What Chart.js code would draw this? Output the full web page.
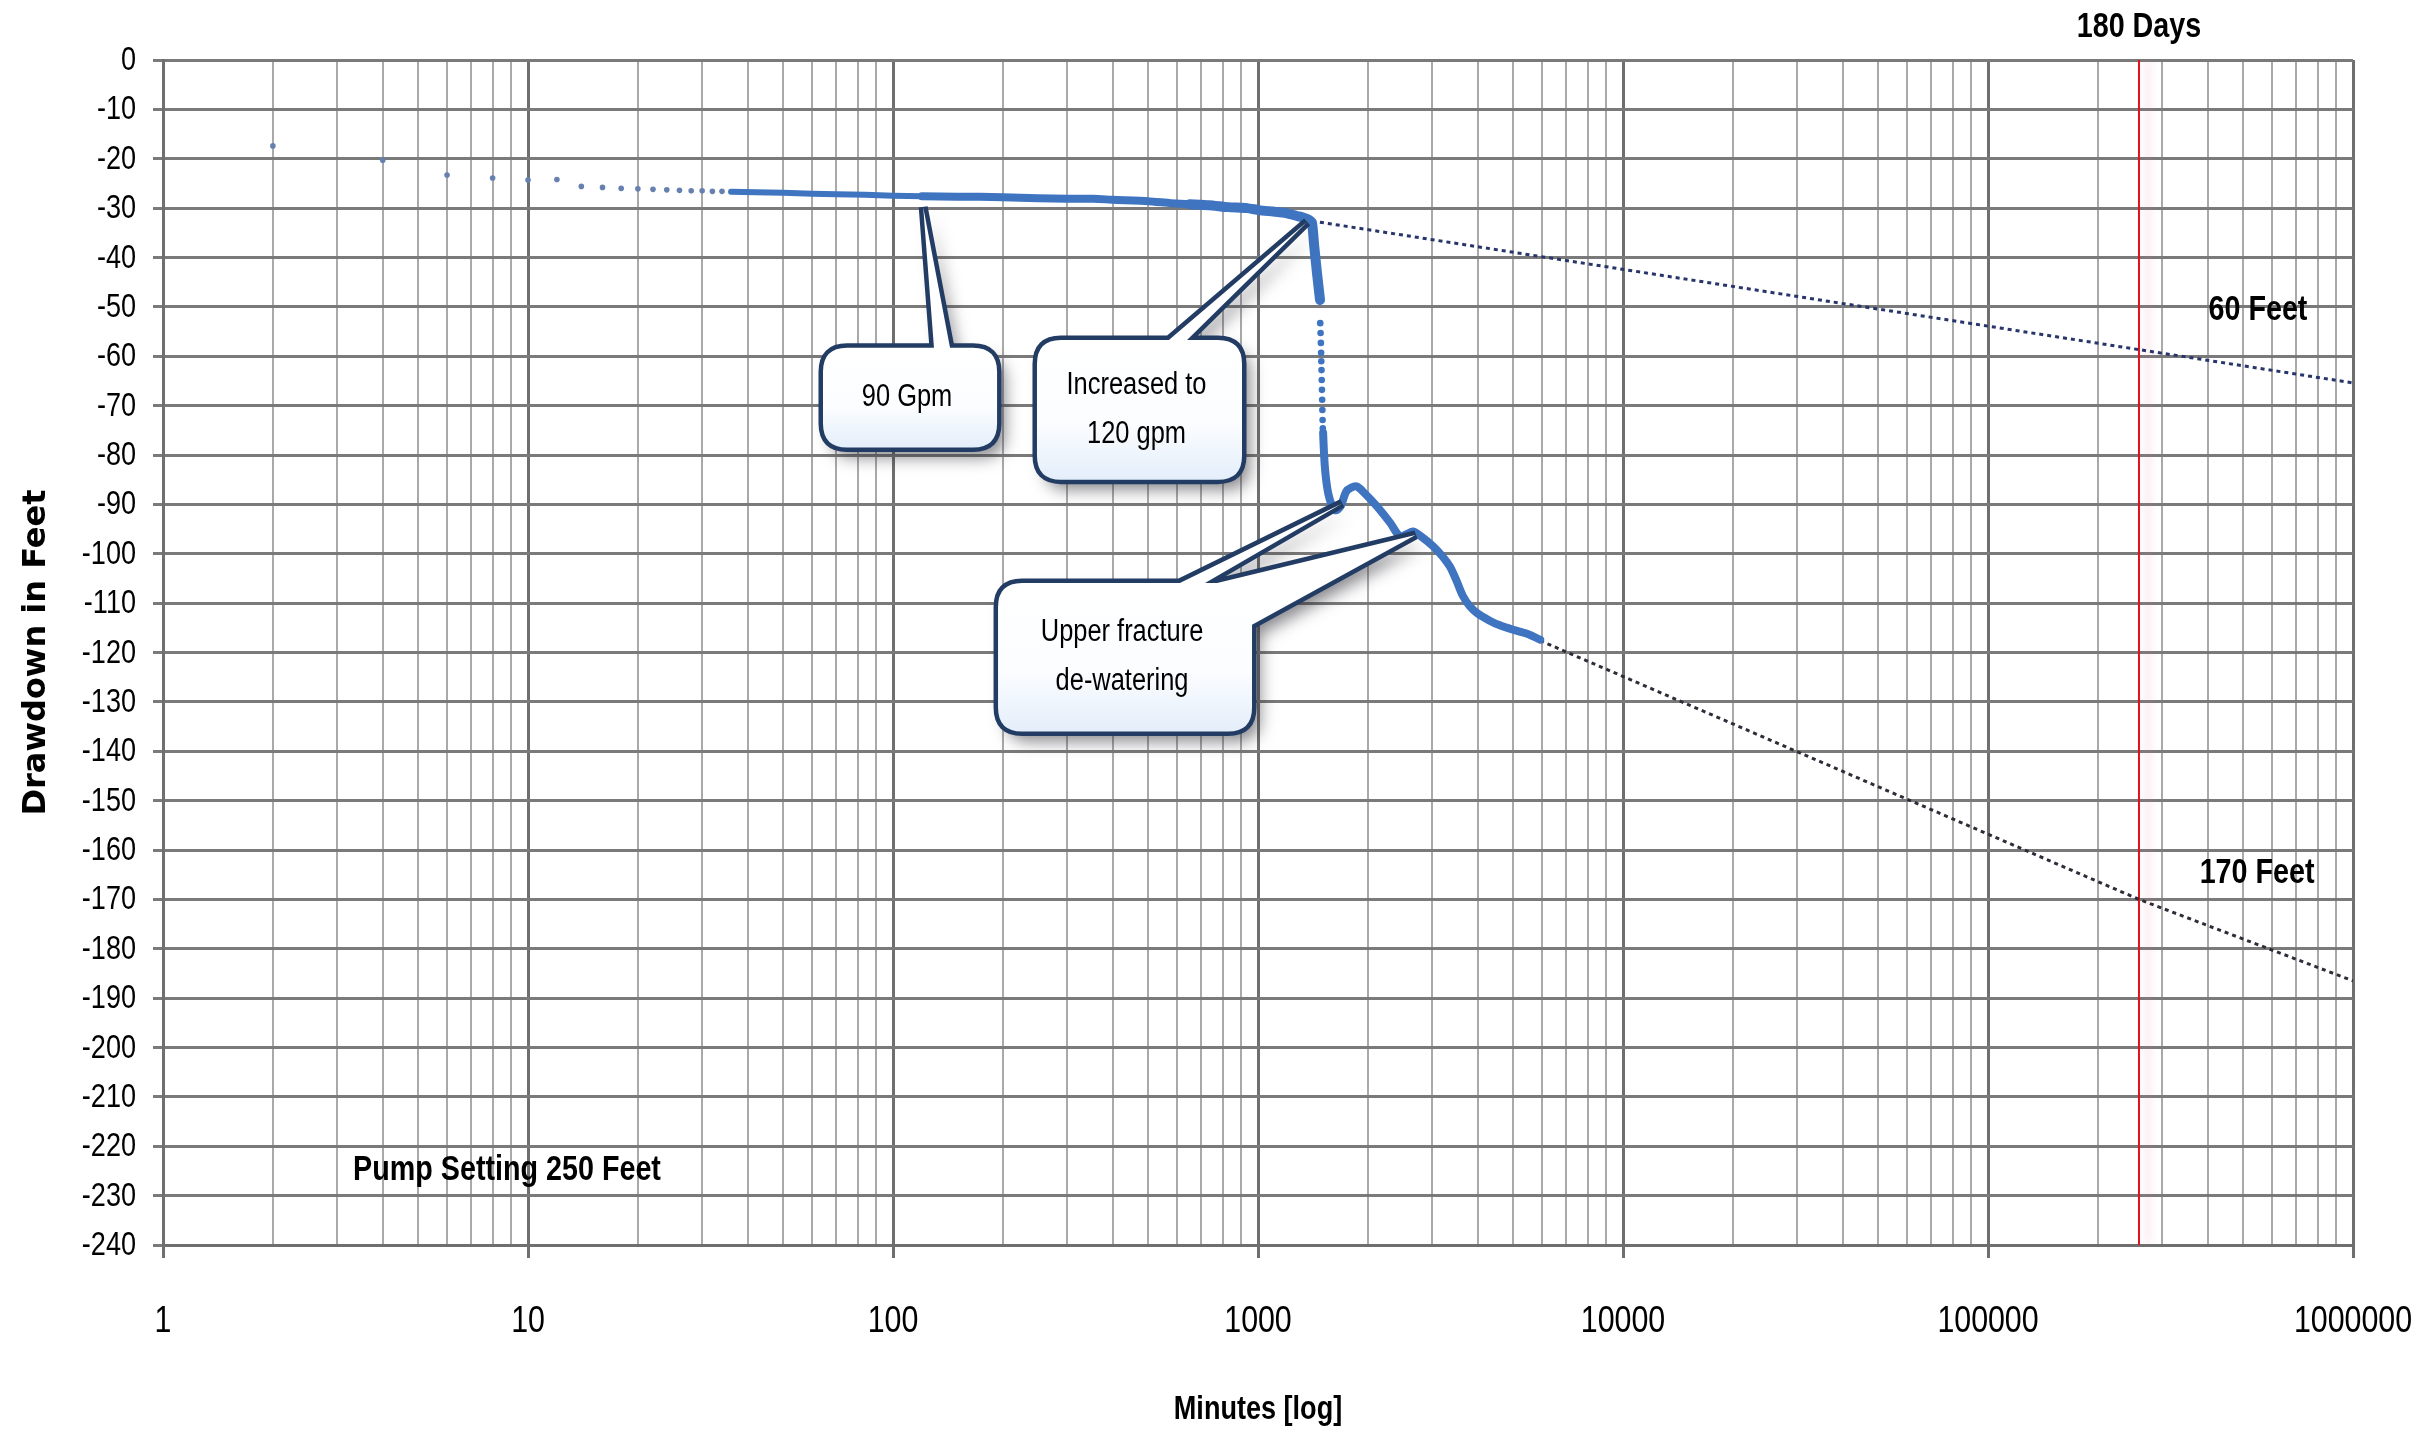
<!DOCTYPE html>
<html>
<head>
<meta charset="utf-8">
<title>Drawdown vs. time</title>
<script src="https://cdn.jsdelivr.net/npm/chart.js@4.4.1/dist/chart.umd.min.js"></script>
<style>
  html, body { margin: 0; padding: 0; background: #ffffff; }
  #wrap { width: 2422px; height: 1432px; }
</style>
</head>
<body>
<div id="wrap"><canvas id="chart" width="2422" height="1432"></canvas></div>
<script>
// ---- Pumping test readings (minutes since start, drawdown in feet) ----
const earlyMinutes  = [2, 4, 6, 8, 10, 12, 14, 16, 18, 20, 22, 24, 26, 28, 30, 32, 34];
const earlyDrawdown = [-17.4, -20.3, -23.3, -23.9, -24.3, -24.2, -25.6, -25.8, -26.0, -26.1,
                       -26.2, -26.3, -26.4, -26.5, -26.5, -26.6, -26.6];

// continuous logger record at 90 gpm, up to the rate change
const loggerMinutes  = [36, 42, 50, 60, 70, 84, 100, 120, 150, 173, 200, 250, 300, 355, 400,
                        500, 577, 650, 734, 830, 934, 1006, 1100, 1194, 1280, 1340, 1380, 1406,
                        1425, 1450, 1479];
const loggerDrawdown = [-26.7, -26.8, -26.9, -27.1, -27.2, -27.3, -27.5, -27.6, -27.7, -27.7,
                        -27.8, -28.0, -28.1, -28.1, -28.3, -28.6, -29.0, -29.2, -29.4, -29.8,
                        -30.0, -30.4, -30.7, -31.0, -31.6, -32.0, -32.4, -33.0, -37.5, -43.0,
                        -48.6];

// rapid fall after the rate increase (individual readings)
const dropMinutes  = [1481, 1484, 1487, 1489, 1491, 1493, 1495, 1497, 1499, 1501, 1503, 1505];
const dropDrawdown = [-53.3, -55.3, -57.3, -59.3, -61.0, -62.8, -64.8, -66.8, -68.8, -70.9,
                      -72.9, -74.6];

// logger record at 120 gpm, through the fracture de-watering
const recoveryMinutes  = [1508, 1515, 1525, 1540, 1560, 1590, 1630, 1680, 1745, 1800, 1867,
                          1950, 2118, 2300, 2450, 2560, 2660, 2800, 3020, 3200, 3355, 3500,
                          3640, 3800, 3980, 4300, 4600, 5000, 5460, 5930];
const recoveryDrawdown = [-75.5, -79.0, -82.5, -85.5, -88.0, -90.0, -91.2, -90.5, -87.4, -86.6,
                          -86.4, -87.6, -90.4, -93.7, -96.5, -96.0, -95.5, -96.5, -98.5,
                          -100.5, -102.6, -105.5, -108.5, -110.6, -112.0, -113.5, -114.5,
                          -115.4, -116.2, -117.4];

// straight-line projections
const trend90Minutes   = [1406, 1000000];
const trend90Drawdown  = [-32.6, -65.4];
const trend120Minutes  = [5930, 259200, 1000000];
const trend120Drawdown = [-117.6, -170.0, -186.5];

// 180 days expressed in minutes
const horizonMinutes  = [180 * 1440, 180 * 1440];
const horizonDrawdown = [0, -240];

// axis ranges and tick labels
const xMin = 1, xMax = 1000000;
const yMin = -240, yMax = 0, yStep = 10;
const decadeLabels = ['1', '10', '100', '1000', '10000', '100000', '1000000'];

// ---- helpers ----
const pairs = (xs, ys) => xs.map((x, i) => ({ x: x, y: ys[i] }));
const isDecade = v => Math.abs(Math.log10(v) - Math.round(Math.log10(v))) < 1e-9;
const gridMinutes = [];
for (let d = 0; d < 6; d++) for (let k = 1; k <= 9; k++) gridMinutes.push(k * Math.pow(10, d));
gridMinutes.push(xMax);

const SANS = '"Liberation Sans", Arial, sans-serif';
const NARROW_X = 0.82;           // horizontal squeeze giving a narrow face
const BLUE = '#3f74c0';

// condensed text: a regular sans face squeezed horizontally
function narrowText(ctx, text, x, y, size, bold, align) {
  ctx.save();
  ctx.translate(x, y);
  ctx.scale(NARROW_X, 1);
  ctx.font = (bold ? 'bold ' : '') + size + 'px ' + SANS;
  ctx.textAlign = align || 'center';
  ctx.textBaseline = 'middle';
  ctx.fillStyle = '#000000';
  ctx.fillText(text, 0, 0);
  ctx.restore();
}

// text placed on the plot (data coordinates)
const notes = [
  { text: '180 Days', x: 259200, y: 6.6 },
  { text: '60 Feet', x: 549000, y: -50.8 },
  { text: '170 Feet', x: 546000, y: -164.8 },
  { text: 'Pump Setting 250 Feet', x: 8.76, y: -224.8 }
];

// callout boxes: box = [left min, right min, top ft, bottom ft]
const callouts = [
  { lines: ['90 Gpm'], box: [64.3, 192.8, -58.3, -78.5],
    pointers: [{ base: [[129.5, -58.3], [143.3, -58.3]], tip: [121, -29.8] }] },
  { lines: ['Increased to', '120 gpm'], box: [248, 904, -56.7, -85.0],
    pointers: [{ base: [[570, -56.7], [639, -56.7]], tip: [1362, -32.8] }] },
  { lines: ['Upper fracture', 'de-watering'], box: [194, 963, -105.9, -136.0],
    pointers: [{ base: [[611, -105.9], [716, -105.9]], tip: [1700, -89.8] },
               { base: [[773, -105.9], [963, -114.4]], tip: [2700, -96.2] }] }
];

// soft pink glow beside the 180-day marker
const glowPlugin = {
  id: 'horizonGlow',
  beforeDatasetDraw(chart, args) {
    if (chart.data.datasets[args.index].label !== '180 days') return;
    const ctx = chart.ctx;
    ctx.save();
    ctx.shadowColor = 'rgba(225, 120, 145, 0.45)';
    ctx.shadowBlur = 8;
    ctx.shadowOffsetX = 9;
  },
  afterDatasetDraw(chart, args) {
    if (chart.data.datasets[args.index].label !== '180 days') return;
    chart.ctx.restore();
  }
};

function roundRectPath(ctx, L, T, R, B, r) {
  ctx.moveTo(L + r, T);
  ctx.lineTo(R - r, T);
  ctx.quadraticCurveTo(R, T, R, T + r);
  ctx.lineTo(R, B - r);
  ctx.quadraticCurveTo(R, B, R - r, B);
  ctx.lineTo(L + r, B);
  ctx.quadraticCurveTo(L, B, L, B - r);
  ctx.lineTo(L, T + r);
  ctx.quadraticCurveTo(L, T, L + r, T);
  ctx.closePath();
}

// axis labels drawn from the scales' own ticks in the narrow face
const axisLabelPlugin = {
  id: 'axisLabels',
  afterDraw(chart) {
    const ctx = chart.ctx, area = chart.chartArea;
    const xs = chart.scales.x, ys = chart.scales.y;
    xs.ticks.forEach(t => {
      if (!isDecade(t.value)) return;
      narrowText(ctx, decadeLabels[Math.round(Math.log10(t.value))],
                 xs.getPixelForValue(t.value), area.bottom + 77, 37, false, 'center');
    });
    ys.ticks.forEach(t => {
      narrowText(ctx, String(t.value), area.left - 27, ys.getPixelForValue(t.value) + 1, 33, false, 'right');
    });
    narrowText(ctx, 'Minutes [log]', (area.left + area.right) / 2, chart.height - 22, 33, true, 'center');
  }
};

const calloutPlugin = {
  id: 'callouts',
  afterDatasetsDraw(chart) {
    const ctx = chart.ctx;
    const xs = chart.scales.x, ys = chart.scales.y;
    const px = v => xs.getPixelForValue(v), py = v => ys.getPixelForValue(v);
    callouts.forEach(c => {
      const L = px(c.box[0]), R = px(c.box[1]), T = py(c.box[2]), B = py(c.box[3]);
      const wedges = c.pointers.map(p => [
        [px(p.base[0][0]), py(p.base[0][1])],
        [px(p.tip[0]), py(p.tip[1])],
        [px(p.base[1][0]), py(p.base[1][1])]
      ]);
      const shape = () => {
        ctx.beginPath();
        roundRectPath(ctx, L, T, R, B, 24);
        wedges.forEach(w => {
          ctx.moveTo(w[0][0], w[0][1]);
          ctx.lineTo(w[1][0], w[1][1]);
          ctx.lineTo(w[2][0], w[2][1]);
          ctx.closePath();
        });
      };
      // drop shadow
      ctx.save();
      ctx.shadowColor = 'rgba(40, 40, 50, 0.55)';
      ctx.shadowBlur = 16;
      ctx.shadowOffsetX = 8;
      ctx.shadowOffsetY = 10;
      ctx.fillStyle = '#ffffff';
      shape();
      ctx.fill('nonzero');
      ctx.restore();
      // outline
      ctx.save();
      ctx.lineJoin = 'miter';
      ctx.miterLimit = 4;
      ctx.lineWidth = 9;
      ctx.strokeStyle = '#223c63';
      shape();
      ctx.stroke();
      // fill over the inner half of the outline
      const g = ctx.createLinearGradient(0, T, 0, B);
      g.addColorStop(0, '#ffffff');
      g.addColorStop(0.6, '#fbfdff');
      g.addColorStop(1, '#e4eefa');
      ctx.fillStyle = g;
      shape();
      ctx.fill('nonzero');
      ctx.restore();
      // text
      const cx = (L + R) / 2, cy = (T + B) / 2, gap = 49;
      c.lines.forEach((t, i) => {
        narrowText(ctx, t, cx - 3, cy + (i - (c.lines.length - 1) / 2) * gap, 31, false, 'center');
      });
    });
  },
  afterDraw(chart) {
    const ctx = chart.ctx;
    const xs = chart.scales.x, ys = chart.scales.y;
    notes.forEach(n => narrowText(ctx, n.text, xs.getPixelForValue(n.x), ys.getPixelForValue(n.y), 35, true, 'center'));
  }
};

// the logger trace is a dense cloud of readings: it fattens as readings crowd together
const loggerWidth = ctx => {
  const t = ctx.p0.parsed.x;
  return t < 120 ? 6 : t < 600 ? 8 : 10;
};

new Chart(document.getElementById('chart'), {
  type: 'scatter',
  data: {
    datasets: [
      { label: 'Early readings', data: pairs(earlyMinutes, earlyDrawdown), showLine: false,
        pointRadius: 2.8, pointBackgroundColor: '#6680b0', pointBorderWidth: 0, order: 1 },
      { label: '90 gpm record', data: pairs(loggerMinutes, loggerDrawdown), showLine: true,
        borderColor: BLUE, borderWidth: 7, borderCapStyle: 'round', borderJoinStyle: 'round',
        pointRadius: 0, tension: 0.2, order: 1,
        segment: { borderWidth: loggerWidth } },
      { label: 'Rate change readings', data: pairs(dropMinutes, dropDrawdown), showLine: false,
        pointRadius: 3.3, pointBackgroundColor: BLUE, pointBorderWidth: 0, order: 1 },
      { label: '120 gpm record', data: pairs(recoveryMinutes, recoveryDrawdown), showLine: true,
        borderColor: BLUE, borderWidth: 8, borderCapStyle: 'round', borderJoinStyle: 'round',
        pointRadius: 0, tension: 0.3, order: 1 },
      { label: '90 gpm projection', data: pairs(trend90Minutes, trend90Drawdown), showLine: true,
        borderColor: '#28356a', borderWidth: 3, borderDash: [4, 4], pointRadius: 0, order: 2 },
      { label: '120 gpm projection', data: pairs(trend120Minutes, trend120Drawdown), showLine: true,
        borderColor: '#2d2d38', borderWidth: 3, borderDash: [4, 4], pointRadius: 0, order: 2 },
      { label: '180 days', data: pairs(horizonMinutes, horizonDrawdown), showLine: true,
        borderColor: '#e0121c', borderWidth: 2, pointRadius: 0, order: 3 }
    ]
  },
  options: {
    responsive: false,
    animation: false,
    devicePixelRatio: 1,
    layout: { padding: { top: 60, right: 69, bottom: 0, left: 0 } },
    plugins: { legend: { display: false }, tooltip: { enabled: false } },
    scales: {
      x: {
        type: 'logarithmic',
        min: xMin,
        max: xMax,
        afterBuildTicks: scale => { scale.ticks = gridMinutes.map(v => ({ value: v })); },
        afterFit: scale => { scale.height = 187; scale.paddingLeft = 0; scale.paddingRight = 0; },
        border: { display: true, color: '#6f6f6f', width: 3 },
        grid: {
          color: c => isDecade(c.tick.value) ? '#6f6f6f' : '#a9a9a9',
          lineWidth: c => isDecade(c.tick.value) ? 3 : 2,
          tickColor: c => isDecade(c.tick.value) ? '#6f6f6f' : 'rgba(0,0,0,0)',
          tickLength: 13
        },
        ticks: { display: false, autoSkip: false }
      },
      y: {
        type: 'linear',
        min: yMin,
        max: yMax,
        afterFit: scale => { scale.width = 163; scale.paddingTop = 0; scale.paddingBottom = 0; },
        border: { display: true, color: '#6f6f6f', width: 3 },
        grid: { color: '#7a7a7a', lineWidth: 3, tickLength: 10, tickColor: '#7a7a7a' },
        ticks: { display: false, stepSize: yStep },
        title: {
          display: true,
          text: 'Drawdown in Feet',
          color: '#000000',
          font: { family: '"DejaVu Sans", Verdana, sans-serif', size: 32, weight: 'bold' },
          padding: { top: 17, bottom: 0 }
        }
      }
    }
  },
  plugins: [glowPlugin, calloutPlugin, axisLabelPlugin]
});
</script>
</body>
</html>
